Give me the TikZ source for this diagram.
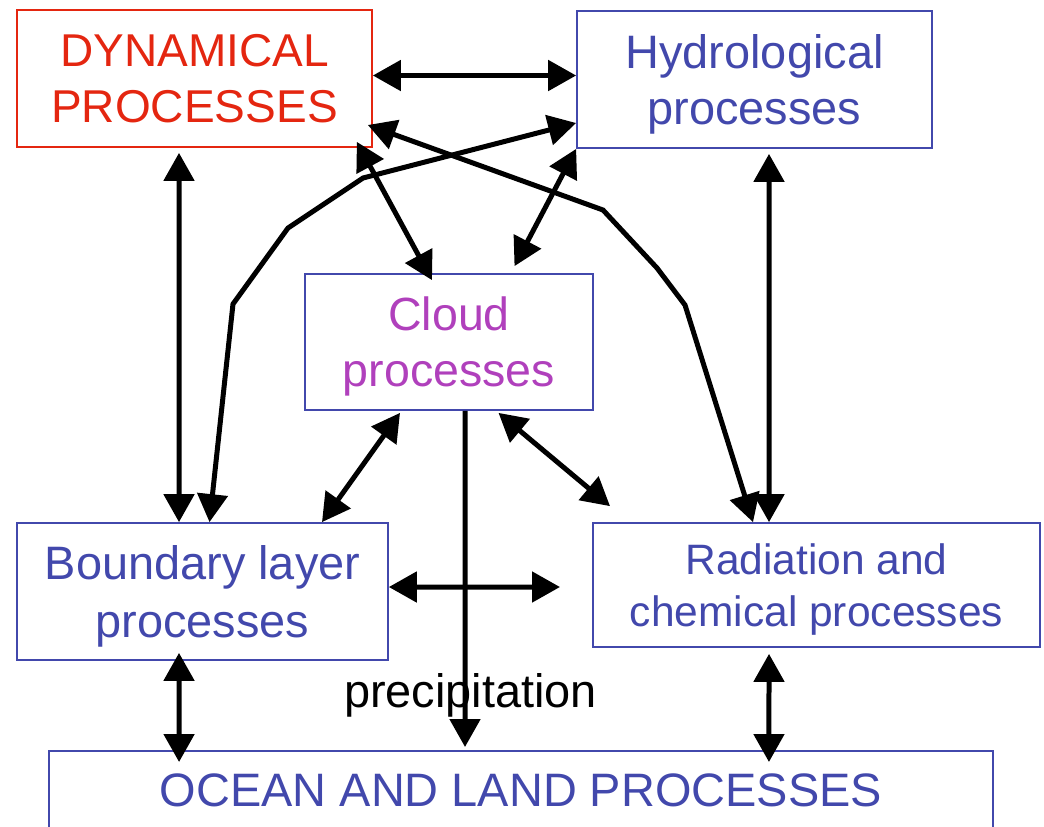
\documentclass[tikz,border=0pt]{standalone}
\usepackage{fontspec}
\setmainfont{Liberation Sans}
\usetikzlibrary{arrows.meta}
\definecolor{dynred}{RGB}{228,38,16}
\definecolor{procblue}{RGB}{66,72,172}
\definecolor{cldpurple}{RGB}{176,64,188}

\begin{document}
\begin{tikzpicture}[x=0.02cm, y=-0.02cm,
  box/.style={rectangle, draw=procblue, line width=0.035cm, inner sep=0pt, align=center, text=procblue, text depth=0pt, font=\fontsize{26.7}{32.4}\selectfont},
  link/.style={line width=0.1cm, {Triangle[length=0.56cm,width=0.6cm]}-{Triangle[length=0.56cm,width=0.6cm]}}]
\useasboundingbox (0,0) rectangle (1044,826);
\node[box, draw=dynred, text=dynred, minimum width=7.1cm, minimum height=2.74cm, font=\fontsize{26.2}{32}\selectfont] (dyn) at (194.5,78.5) {DYNAMICAL\\PROCESSES};
\node[box, minimum width=7.1cm, minimum height=2.74cm] (hyd) at (754.5,79.5) {Hydrological\\processes};
\node[box, text=cldpurple, minimum width=5.76cm, minimum height=2.72cm, font=\fontsize{26.5}{31.9}\selectfont] (cld) at (449,342) {Cloud\\processes};
\node[box, minimum width=7.42cm, minimum height=2.74cm, font=\fontsize{26.7}{33.2}\selectfont] (bl) at (202.5,591.5) {Boundary layer\\processes};
\node[box, minimum width=8.94cm, minimum height=2.48cm, font=\fontsize{24.2}{29.6}\selectfont] (rad) at (816.5,585) {Radiation and\\chemical processes};
\node[box, anchor=north, minimum width=18.88cm, inner ysep=0.44cm, text height=0.674cm, text depth=2cm] (ocn) at (521,750) {OCEAN AND LAND PROCESSES};
\node[anchor=base, font=\fontsize{26.7}{32}\selectfont] (pr) at (470.5,707) {precipitation};
\coordinate (br) at (560,587);
\draw[link] ([yshift=0.06cm]dyn.east) -- ([yshift=0.08cm]hyd.west);
\draw[link] ([xshift=-0.31cm,yshift=-0.1cm]dyn.south) -- ([xshift=-0.47cm]bl.north);
\draw[link] ([xshift=0.29cm,yshift=-0.1cm]hyd.south) -- ([xshift=-0.95cm]rad.north);
\draw[link] ([xshift=-0.32cm,yshift=0.12cm]dyn.south east) -- ([xshift=-0.34cm,yshift=-0.14cm]cld.north);
\draw[link] (hyd.south west) -- ([xshift=1.31cm,yshift=0.14cm]cld.north);
\draw[link] ([yshift=-0.87cm]hyd.west) -- (363,178) -- (288,228) -- (233,304) -- ([xshift=0.14cm]bl.north);
\draw[link] ([xshift=-0.1cm,yshift=-0.93cm]dyn.east) -- (603,210) -- (657,268) -- (685,305) -- ([xshift=-1.27cm]rad.north);
\draw[link] ([xshift=-0.98cm,yshift=-0.04cm]cld.south) -- ([xshift=2.39cm]bl.north);
\draw[link] ([xshift=0.99cm,yshift=-0.04cm]cld.south) -- ([xshift=-4.13cm,yshift=0.32cm]rad.north);
\draw[link] ([yshift=0.09cm]bl.east) -- (br);
\draw[line width=0.1cm, -{Triangle[length=0.56cm,width=0.6cm]}] ([xshift=0.32cm]cld.south) -- ([xshift=-1.12cm,yshift=0.06cm]ocn.north);
\draw[link] ([xshift=-0.47cm,yshift=0.16cm]bl.south) -- ([xshift=-6.84cm,yshift=-0.24cm]ocn.north);
\draw[link] ([xshift=-0.95cm,yshift=-0.12cm]rad.south) -- ([xshift=4.96cm,yshift=-0.24cm]ocn.north);
\end{tikzpicture}
\end{document}
